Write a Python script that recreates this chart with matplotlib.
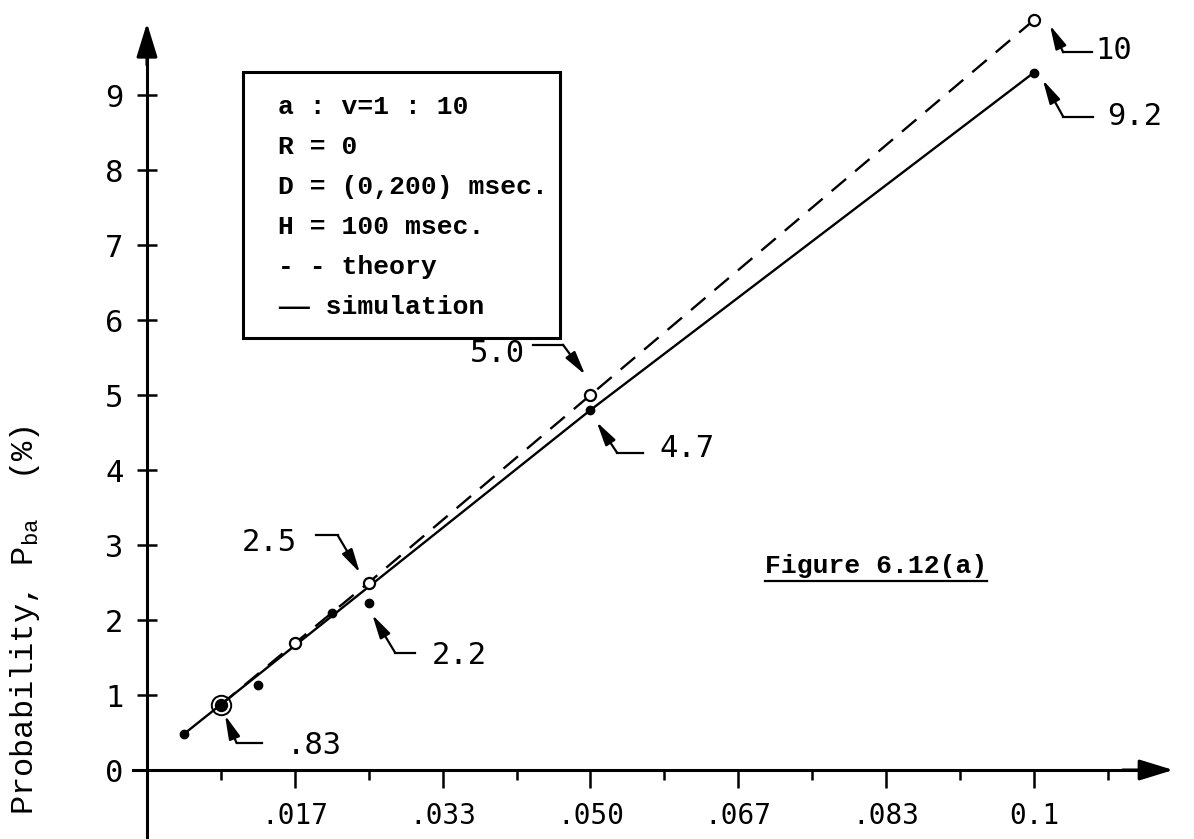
import matplotlib.pyplot as plt
import numpy as np

plt.rcParams['font.family'] = ['Liberation Mono', 'DejaVu Sans']
plt.rcParams['mathtext.fontset'] = 'custom'
plt.rcParams['mathtext.rm'] = 'Liberation Mono'

# theory points (open circles) and simulation points (dots)
x_theory = [1/120, 1/60, 1/40, 1/20, 1/10]
y_theory = [0.87, 1.69, 2.5, 5.0, 10.0]
x_sim = [1/240, 1/120, 1/80, 1/48, 1/40, 1/20, 1/10]
y_sim = [0.48, 0.87, 1.13, 2.1, 2.23, 4.8, 9.3]
x_sim_line = [1/240, 1/20, 1/10]
y_sim_line = [0.48, 4.8, 9.3]

x_major = [1/60, 1/30, 1/20, 1/15, 1/12, 1/10]
x_major_labels = ['.017', '.033', '.050', '.067', '.083', '0.1']
x_minor = [k/120 for k in range(1, 14)]
y_ticks = list(range(0, 10))

legend_lines = ['a : v=1 : 10', 'R = 0', 'D = (0,200) msec.', 'H = 100 msec.',
                '- - theory', '—— simulation']

fig = plt.figure(figsize=(11.94, 8.39), dpi=100)
ax = fig.add_axes([0, 0, 1, 1])
ax.set_xlim(-0.01657, 0.11804)
ax.set_ylim(-0.92, 10.267)

for s in ['top', 'right']:
    ax.spines[s].set_visible(False)
ax.spines['left'].set_position(('data', 0))
ax.spines['bottom'].set_position(('data', 0))
ax.spines['left'].set_bounds(-0.92, 9.6)
ax.spines['bottom'].set_bounds(-0.0016, 0.112)
ax.spines['left'].set_linewidth(2.2)
ax.spines['bottom'].set_linewidth(2.2)

# axis arrows
arr = dict(arrowstyle='-|>,head_length=1.3,head_width=0.4', mutation_scale=16,
           lw=2.2, color='k', shrinkA=0, shrinkB=0)
ax.annotate('', xy=(0, 9.96), xytext=(0, 9.4), arrowprops=arr)
ax.annotate('', xy=(0.1157, 0), xytext=(0.110, 0), arrowprops=arr)

ax.set_yticks(y_ticks)
ax.set_yticklabels([str(v) for v in y_ticks], family='DejaVu Sans Mono', fontsize=22)
ax.tick_params(axis='y', direction='inout', length=14, width=1.8, pad=10)
ax.set_xticks(x_major)
ax.set_xticklabels(x_major_labels, family='DejaVu Sans Mono', fontsize=20)
ax.set_xticks([v for v in x_minor if all(abs(v - m) > 1e-6 for m in x_major)], minor=True)
ax.tick_params(axis='x', which='major', direction='out', length=13, width=1.8, pad=10)
ax.tick_params(axis='x', which='minor', direction='out', length=7, width=1.8)

# lines
ax.plot(x_sim_line, y_sim_line, color='k', lw=1.7)
ax.plot(x_theory, y_theory, color='k', lw=1.7, dashes=(8, 5))

# markers
ax.plot(x_theory, y_theory, 'o', ms=8, mfc='white', mec='k', mew=1.6, zorder=3)
ax.plot(x_sim, y_sim, 'o', ms=6, color='k', zorder=4)
ax.plot(x_theory[0], y_theory[0], 'o', ms=14, mfc='none', mec='k', mew=1.4, zorder=4)

# callouts: label, tip, elbow, line end, text position, alignment
callouts = [
    ('10', (0.1018, 9.93), (0.1033, 9.57), (0.1065, 9.57), (0.1069, 9.60), 'left'),
    ('9.2', (0.1010, 9.20), (0.1033, 8.71), (0.1066, 8.71), (0.1082, 8.71), 'left'),
    ('5.0', (0.0494, 5.27), (0.0469, 5.67), (0.0435, 5.67), (0.0426, 5.56), 'right'),
    ('4.7', (0.0507, 4.64), (0.0530, 4.23), (0.0559, 4.23), (0.0578, 4.29), 'left'),
    ('2.5', (0.0240, 2.63), (0.0215, 3.13), (0.0191, 3.13), (0.0169, 3.03), 'right'),
    ('2.2', (0.0254, 2.07), (0.0280, 1.56), (0.0302, 1.56), (0.0321, 1.53), 'left'),
    ('.83', (0.0088, 0.73), (0.0101, 0.36), (0.0130, 0.36), (0.0158, 0.33), 'left'),
]
for lab, tip, elbow, end, txy, ha in callouts:
    ax.plot([end[0], elbow[0]], [end[1], elbow[1]], color='k', lw=1.6)
    ax.annotate('', xy=tip, xytext=elbow,
                arrowprops=dict(arrowstyle='-|>,head_length=0.9,head_width=0.22',
                                mutation_scale=16, lw=1.6, color='k',
                                shrinkA=0, shrinkB=0))
    ax.text(txy[0], txy[1], lab, ha=ha, va='center', fontsize=22,
            family='DejaVu Sans Mono')

# legend box
ax.add_patch(plt.Rectangle((0.01082, 5.76), 0.0357, 3.55, fill=False,
                           lw=2.2, ec='k', zorder=2))
for i, t in enumerate(legend_lines):
    ax.text(0.0148, 8.84 - i * 0.533, t, fontsize=19, va='center', ha='left',
            fontweight='bold')

fig_label = ax.text(0.0697, 2.72, 'Figure 6.12(a)', fontsize=19,
                    va='center', ha='left', fontweight='bold')

fig.text(25 / 1194, 1 - 620 / 839, r'Probability, P$_{\mathrm{ba}}$  (%)',
         rotation=90, fontsize=23, va='center', ha='center')

# underline under the figure caption
fig.canvas.draw()
bb = fig_label.get_window_extent().transformed(ax.transData.inverted())
ax.plot([bb.x0, bb.x1], [bb.y0 - 0.04, bb.y0 - 0.04], color='k', lw=1.6)

fig.savefig('out.png', dpi=100)
